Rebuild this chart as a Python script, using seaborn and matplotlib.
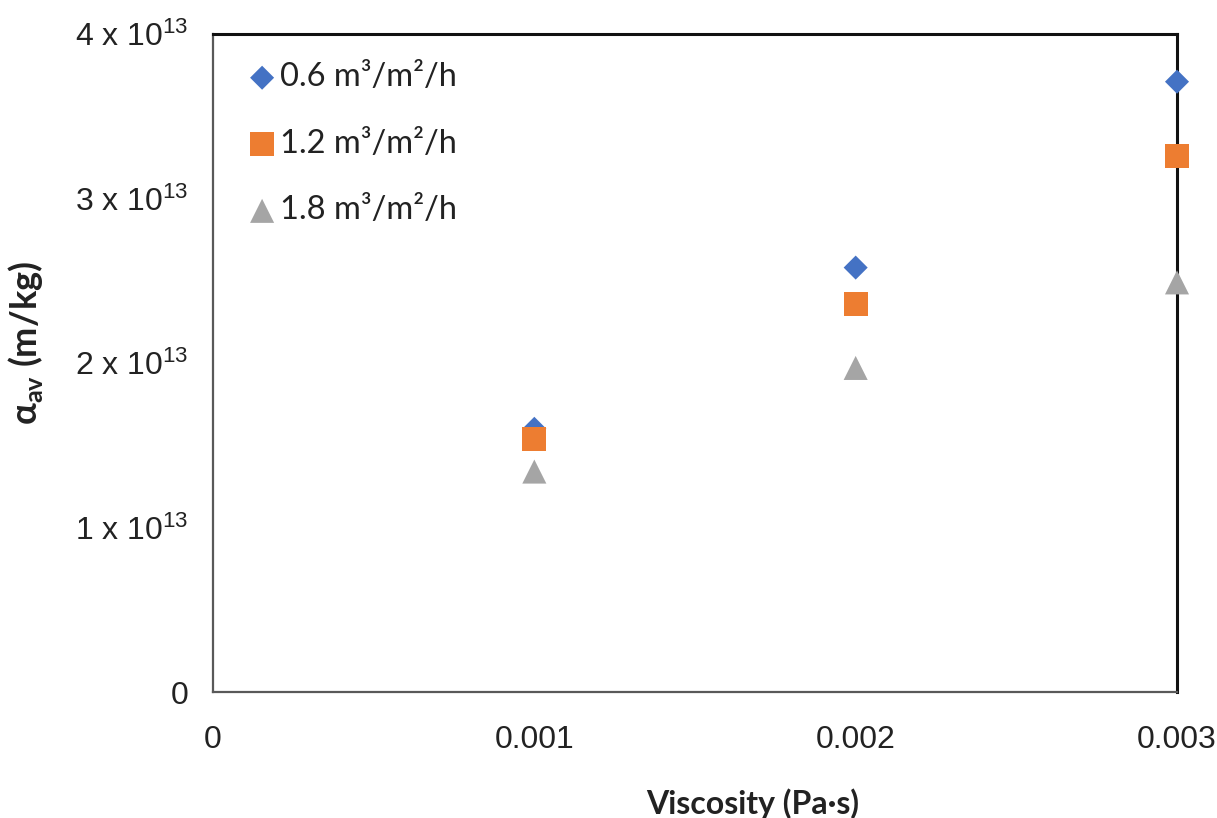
import matplotlib
matplotlib.use("Agg")
import matplotlib.pyplot as plt
import seaborn as sns
import pandas as pd
from matplotlib.ticker import FixedLocator, FuncFormatter

# ---- data ----
viscosity = [0.001, 0.002, 0.003]
series_labels = ["0.6 m³/m²/h", "1.2 m³/m²/h", "1.8 m³/m²/h"]
alpha_06 = [1.60e13, 2.58e13, 3.71e13]
alpha_12 = [1.54e13, 2.36e13, 3.26e13]
alpha_18 = [1.34e13, 1.97e13, 2.49e13]
x_ticks = [0, 0.001, 0.002, 0.003]
x_tick_labels = ["0", "0.001", "0.002", "0.003"]
y_ticks = [0, 1e13, 2e13, 3e13, 4e13]

sns.set_theme(style="white")
plt.rcParams["font.family"] = ["Liberation Sans", "DejaVu Sans"]
plt.rcParams["mathtext.fontset"] = "custom"
plt.rcParams["mathtext.rm"] = "Liberation Sans"
plt.rcParams["mathtext.it"] = "Liberation Sans:italic"
plt.rcParams["mathtext.bf"] = "Lato:bold"

fig = plt.figure(figsize=(12.17, 8.18), dpi=100)
ax = fig.add_axes([213 / 1217, 1 - 692 / 818, (1177 - 213) / 1217, (692 - 34) / 818])

colors = ["#4472C4", "#ED7D31", "#A5A5A5"]
markers = ["D", "s", "^"]
sizes = [150, 300, 300]
values = [alpha_06, alpha_12, alpha_18]

for lab, vals, c, m, s in zip(series_labels, values, colors, markers, sizes):
    df = pd.DataFrame({"x": viscosity, "y": vals})
    sns.scatterplot(data=df, x="x", y="y", ax=ax, color=c, marker=m, s=s,
                    edgecolor="none", label=lab, clip_on=False, zorder=5)

ax.set_xlim(0, 0.003)
ax.set_ylim(0, 4e13)
ax.xaxis.set_major_locator(FixedLocator(x_ticks))
ax.set_xticklabels(x_tick_labels)
ax.yaxis.set_major_locator(FixedLocator(y_ticks))


def yfmt(v, pos):
    if v == 0:
        return "0"
    return r"$\mathrm{%d\ x\ 10^{13}}$" % round(v / 1e13)


ax.yaxis.set_major_formatter(FuncFormatter(yfmt))
ax.tick_params(axis="x", length=0, pad=24, labelsize=23, colors="#222222")
ax.tick_params(axis="y", length=0, pad=18, labelsize=23, colors="#222222")

for side in ["left", "bottom"]:
    ax.spines[side].set_color("#595959")
    ax.spines[side].set_linewidth(1.6)
for side in ["top", "right"]:
    ax.spines[side].set_color("#111111")
    ax.spines[side].set_linewidth(2.2)
ax.grid(False)

ax.set_xlabel("Viscosity (Pa·s)", fontsize=23, fontweight="bold",
              family=["Lato", "DejaVu Sans"], color="#222222")
ax.xaxis.set_label_coords(0.56, -0.146)
ax.set_ylabel(r"α$_{\mathbf{av}}$ (m/kg)", fontsize=26, fontweight="bold",
              family=["Lato", "DejaVu Sans"], color="#222222")
ax.yaxis.set_label_coords(-0.174, 0.53)

leg = ax.legend(loc="upper left", bbox_to_anchor=(0.034, 0.957), frameon=False,
                prop={"family": ["Lato", "DejaVu Sans"], "size": 23.5},
                labelspacing=1.12, handlelength=1.0, handletextpad=0.06,
                borderaxespad=0.0, borderpad=0.0)
for t in leg.get_texts():
    t.set_color("#222222")

fig.savefig("out.png", dpi=100, facecolor="white")
